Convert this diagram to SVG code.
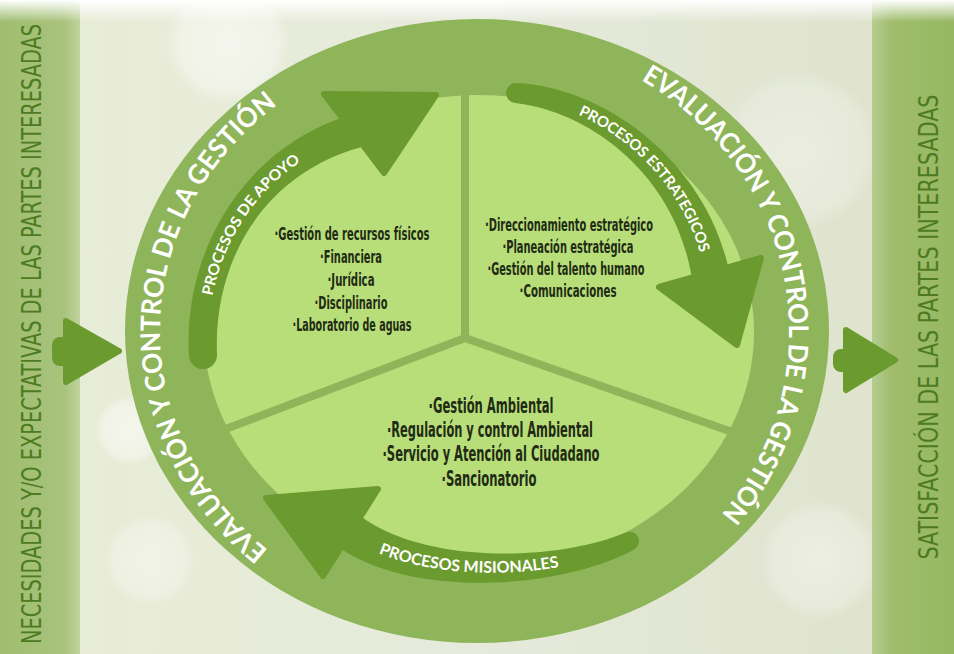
<svg xmlns="http://www.w3.org/2000/svg" width="954" height="654" viewBox="0 0 954 654">
<defs>
<linearGradient id="bg" x1="0" y1="0" x2="1" y2="0">
<stop offset="0" stop-color="#e8edd6"/>
<stop offset="0.5" stop-color="#e6eadb"/>
<stop offset="1" stop-color="#dde2cb"/>
</linearGradient>
<linearGradient id="topfade" x1="0" y1="0" x2="0" y2="1">
<stop offset="0" stop-color="#ffffff" stop-opacity="1"/>
<stop offset="1" stop-color="#ffffff" stop-opacity="0"/>
</linearGradient>
<linearGradient id="bandL" x1="0" y1="0" x2="1" y2="0">
<stop offset="0" stop-color="#9fbd6f"/>
<stop offset="0.8" stop-color="#a8c37d"/>
<stop offset="1" stop-color="#bfd39c"/>
</linearGradient>
<linearGradient id="bandR" x1="0" y1="0" x2="1" y2="0">
<stop offset="0" stop-color="#b6cd90"/>
<stop offset="0.25" stop-color="#9fbd6c"/>
<stop offset="1" stop-color="#97b762"/>
</linearGradient>
<radialGradient id="bokeh">
<stop offset="0" stop-color="#ffffff" stop-opacity="0.55"/>
<stop offset="0.8" stop-color="#ffffff" stop-opacity="0.35"/>
<stop offset="1" stop-color="#ffffff" stop-opacity="0"/>
</radialGradient>
<path id="ringL" d="M318.5,583 A317,291 0 0 1 422,44.4"/>
<path id="ringR" d="M583.7,53.8 A312,295 0 0 1 633,586.5"/>
<path id="pApoyo" d="M208,354.8 C203.1,256.3 258.3,164.3 357.4,135.8"/>
<path id="pEstr" d="M515.6,98 C598.1,104.8 685.4,172.8 705.1,273"/>
<path id="pMis" d="M347.1,536.1 C418.5,587.1 561.2,579.8 632.2,545.5"/>
</defs>
<style>
.ring{fill:#8fb55b}
.inner{fill:#b8de7a}
.div{stroke:#8fb55b;stroke-width:8;fill:none}
.dark{fill:#6b9a2e}
.head{fill:#6b9a2e;stroke:#6b9a2e;stroke-width:6;stroke-linejoin:round}
.ringtxt{font-family:Lato,"Open Sans","Liberation Sans",sans-serif;font-size:27px;font-weight:700;fill:#ffffff}
.arrtxt{font-family:Lato,"Open Sans","Liberation Sans",sans-serif;font-weight:700;fill:#ffffff}
.item{font-family:"DejaVu Sans Condensed","Liberation Sans Narrow","Liberation Sans",sans-serif;font-weight:700;fill:#1f2b14;text-anchor:middle}
.band{font-family:"DejaVu Sans Condensed","Liberation Sans Narrow","Liberation Sans",sans-serif;font-size:26px;fill:#4d7b22;text-anchor:middle}
</style>

<g id="background">
<rect x="0" y="0" width="954" height="654" fill="url(#bg)"/>
<circle cx="228" cy="42" r="62" fill="url(#bokeh)"/>
<circle cx="800" cy="150" r="80" fill="url(#bokeh)" opacity="0.6"/>
<circle cx="130" cy="430" r="35" fill="url(#bokeh)"/>
<circle cx="150" cy="560" r="45" fill="url(#bokeh)" opacity="0.7"/>
<circle cx="820" cy="560" r="60" fill="url(#bokeh)" opacity="0.7"/>
</g>

<g id="band-left">
<rect x="0" y="0" width="80" height="654" fill="url(#bandL)"/>
<text class="band" transform="translate(41,334) rotate(-90)" textLength="620" lengthAdjust="spacingAndGlyphs">NECESIDADES Y/O EXPECTATIVAS DE LAS PARTES INTERESADAS</text>
</g>

<g id="band-right">
<rect x="872" y="0" width="82" height="654" fill="url(#bandR)"/>
<text class="band" transform="translate(938,327) rotate(-90)" textLength="465" lengthAdjust="spacingAndGlyphs">SATISFACCIÓN DE LAS PARTES INTERESADAS</text>
</g>

<rect x="0" y="0" width="954" height="22" fill="url(#topfade)"/>

<g id="ring">
<ellipse class="ring" cx="477" cy="331" rx="352" ry="312"/>
<ellipse class="inner" cx="479" cy="332" rx="275" ry="237"/>
<text class="ringtxt"><textPath href="#ringL" startOffset="60" textLength="517" lengthAdjust="spacingAndGlyphs">EVALUACIÓN Y CONTROL DE LA GESTIÓN</textPath></text>
<text class="ringtxt"><textPath href="#ringR" startOffset="63" textLength="505" lengthAdjust="spacingAndGlyphs">EVALUACIÓN Y CONTROL DE LA GESTIÓN</textPath></text>
</g>

<g id="dividers">
<path class="div" d="M465,338 L465,80 M465,338 L215,433 M465,338 L735,433"/>
</g>

<g id="node-apoyo">
<text class="item" font-size="17.5" x="352" y="240" textLength="155" lengthAdjust="spacingAndGlyphs">·Gestión de recursos físicos</text>
<text class="item" font-size="17.5" x="351" y="263" textLength="62" lengthAdjust="spacingAndGlyphs">·Financiera</text>
<text class="item" font-size="17.5" x="351" y="286" textLength="47" lengthAdjust="spacingAndGlyphs">·Jurídica</text>
<text class="item" font-size="17.5" x="351" y="309" textLength="73" lengthAdjust="spacingAndGlyphs">·Disciplinario</text>
<text class="item" font-size="17.5" x="352" y="331" textLength="119" lengthAdjust="spacingAndGlyphs">·Laboratorio de aguas</text>
</g>

<g id="node-estrategicos">
<text class="item" font-size="17.5" x="569" y="231" textLength="168" lengthAdjust="spacingAndGlyphs">·Direccionamiento estratégico</text>
<text class="item" font-size="17.5" x="568" y="253" textLength="131" lengthAdjust="spacingAndGlyphs">·Planeación estratégica</text>
<text class="item" font-size="17.5" x="566" y="275" textLength="157" lengthAdjust="spacingAndGlyphs">·Gestión del talento humano</text>
<text class="item" font-size="17.5" x="568" y="297" textLength="97" lengthAdjust="spacingAndGlyphs">·Comunicaciones</text>
</g>

<g id="node-misionales">
<text class="item" font-size="20.5" x="491" y="413" textLength="125" lengthAdjust="spacingAndGlyphs">·Gestión Ambiental</text>
<text class="item" font-size="20.5" x="490" y="437" textLength="206" lengthAdjust="spacingAndGlyphs">·Regulación y control Ambiental</text>
<text class="item" font-size="20.5" x="491" y="461" textLength="217" lengthAdjust="spacingAndGlyphs">·Servicio y Atención al Ciudadano</text>
<text class="item" font-size="20.5" x="489" y="486" textLength="95" lengthAdjust="spacingAndGlyphs">·Sancionatorio</text>
</g>

<g id="connectors">
<g id="arrow-apoyo">
<path class="dark" d="M189,355.7 C182.8,251.2 244.5,146.4 351.3,114.7 L360.7,147.3 C265.5,173.6 213.2,258.8 217,354.3 A14,14 0 0 1 189,355.7 Z"/>
<polygon class="head" points="324,94 436,95 384,173"/>
<text class="arrtxt" font-size="15"><textPath href="#pApoyo" startOffset="59" textLength="165" lengthAdjust="spacingAndGlyphs">PROCESOS DE APOYO</textPath></text>
</g>
<g id="arrow-estrategicos">
<path class="dark" d="M516.8,83 C604.9,87.4 704.6,161 728.6,268.4 L691.4,275.6 C675.4,179 595.1,112.6 515.2,103 A10,10 0 0 1 516.8,83 Z"/>
<polygon class="head" points="659,287 761,258 737,345"/>
<text class="arrtxt" font-size="15"><textPath href="#pEstr" startOffset="65" textLength="190" lengthAdjust="spacingAndGlyphs">PROCESOS ESTRATEGICOS</textPath></text>
</g>
<g id="arrow-misionales">
<path class="dark" d="M634.2,549.5 C563.4,588.3 414.8,599.8 339,547.5 L361,516.5 C425.2,564.2 556.6,561.7 625.8,532.5 A9.5,9.5 0 0 1 634.2,549.5 Z"/>
<polygon class="head" points="378,489 266,498 323,576"/>
<text class="arrtxt" font-size="16"><textPath href="#pMis" startOffset="36" textLength="183" lengthAdjust="spacingAndGlyphs">PROCESOS MISIONALES</textPath></text>
</g>
<g id="arrow-in">
<rect class="dark" x="52" y="337" width="20" height="29" rx="8"/>
<polygon class="head" points="66,321 119,351 66,382"/>
</g>
<g id="arrow-out">
<rect class="dark" x="833" y="349" width="20" height="23" rx="8"/>
<polygon class="head" points="846,330 895,360 846,390"/>
</g>
</g>
</svg>
